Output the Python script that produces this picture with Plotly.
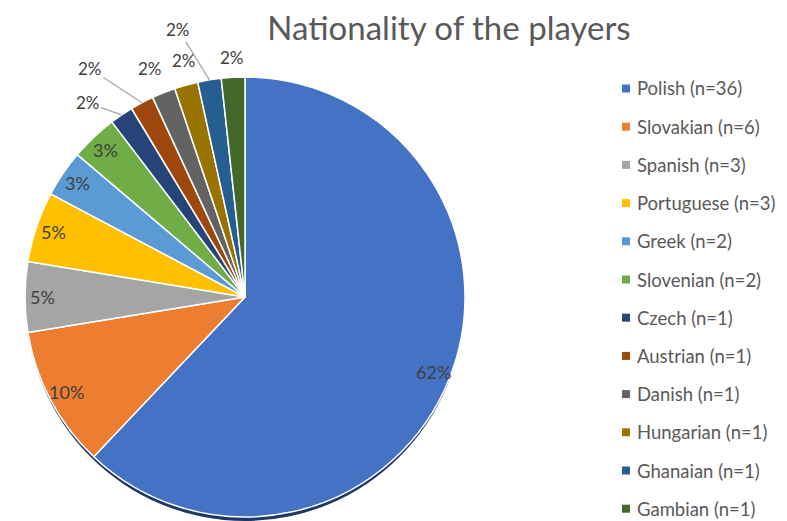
import math
import plotly.graph_objects as go

nationalities = ["Polish", "Slovakian", "Spanish", "Portuguese", "Greek", "Slovenian",
                 "Czech", "Austrian", "Danish", "Hungarian", "Ghanaian", "Gambian"]
counts = [36, 6, 3, 3, 2, 2, 1, 1, 1, 1, 1, 1]
colors = ["#4472C4", "#ED7D31", "#A5A5A5", "#FFC000", "#5B9BD5", "#70AD47",
          "#264478", "#9E480E", "#636363", "#997300", "#255E91", "#43682B"]
legend_labels = [f"{n} (n={c})" for n, c in zip(nationalities, counts)]

W, H = 787, 521
FONT = "Lato, 'Open Sans', sans-serif"

# pie placement (pixels)
px0, px1, py0, py1 = 25, 465, 77, 517
cx, cy = (px0 + px1) / 2, (py0 + py1) / 2
R = (py1 - py0) / 2
dom_x = [px0 / W, px1 / W]
dom_y = [1 - py1 / H, 1 - py0 / H]

# data-label layout: inside labels sit near the rim, small slices get outside labels
n_inside = 6
inside_radius = 0.92
# (dx, dy, leader line) offsets of outside labels from the slice rim, in pixels
outside_offsets = [(-34, -12, True), (-52, -34, True), (-14, -24, False),
                   (-2, -25, False), (-31, -50, True), (-1, -20, False)]

fig = go.Figure()
fig.add_trace(go.Pie(
    labels=legend_labels,
    values=counts,
    sort=False,
    direction="clockwise",
    rotation=0,
    marker=dict(colors=colors, line=dict(color="white", width=1.5)),
    textinfo="none",
    domain=dict(x=dom_x, y=dom_y),
    showlegend=False,
    hoverinfo="label+percent",
))

# subtle 3D-like shadow under the pie
shapes = [dict(type="circle", xref="paper", yref="paper", layer="below",
               x0=(cx - R + 1) / W, x1=(cx + R - 1) / W,
               y0=1 - (cy + R + 4) / H, y1=1 - (cy - R + 4) / H,
               fillcolor="#1F3864", line=dict(width=0))]

annotations = []

# percentage data labels, derived from the values
total = sum(counts)
cum = 0
for i, c in enumerate(counts):
    theta = 2 * math.pi * (cum + c / 2) / total
    cum += c
    pct = f"{round(100 * c / total)}%"
    s, co = math.sin(theta), math.cos(theta)
    if i < n_inside:
        x, y = cx + inside_radius * R * s, cy - inside_radius * R * co
        annotations.append(dict(text=pct, xref="paper", yref="paper", x=x / W, y=1 - y / H,
                                xanchor="center", yanchor="middle", showarrow=False,
                                font=dict(family=FONT, size=18, color="#404040")))
    else:
        ex, ey = cx + R * s, cy - R * co
        dx, dy, leader = outside_offsets[i - n_inside]
        if leader:
            annotations.append(dict(text=pct, xref="paper", yref="paper", x=ex / W, y=1 - ey / H,
                                    showarrow=True, arrowhead=0, arrowwidth=1.2,
                                    arrowcolor="#A6A6A6", ax=dx, ay=dy, standoff=0,
                                    font=dict(family=FONT, size=17, color="#404040")))
        else:
            annotations.append(dict(text=pct, xref="paper", yref="paper",
                                    x=(ex + dx) / W, y=1 - (ey + dy) / H,
                                    xanchor="center", yanchor="middle", showarrow=False,
                                    font=dict(family=FONT, size=17, color="#404040")))

# manual legend, one entry per category
y_first, step = 88.5, 38.2
for i, (lab, col) in enumerate(zip(legend_labels, colors)):
    yc = y_first + i * step
    shapes.append(dict(type="rect", xref="paper", yref="paper",
                       x0=622 / W, x1=630 / W, y0=1 - (yc + 4) / H, y1=1 - (yc - 4) / H,
                       fillcolor=col, line=dict(width=0)))
    annotations.append(dict(text=lab, xref="paper", yref="paper", x=635 / W, y=1 - yc / H,
                            xanchor="left", yanchor="middle", showarrow=False,
                            font=dict(family=FONT, size=18.5, color="#595959")))

fig.update_layout(
    width=W, height=H,
    margin=dict(l=0, r=0, t=0, b=0, autoexpand=False),
    paper_bgcolor="white",
    plot_bgcolor="white",
    title=dict(text="Nationality of the players", x=449 / W, xanchor="center",
               y=1 - 28 / H, yanchor="middle",
               font=dict(family=FONT, size=33, color="#595959")),
    shapes=shapes,
    annotations=annotations,
)

fig.write_html("out.html", config={"displayModeBar": False},
               post_script="document.body.style.margin='0';document.body.style.overflow='hidden';")
